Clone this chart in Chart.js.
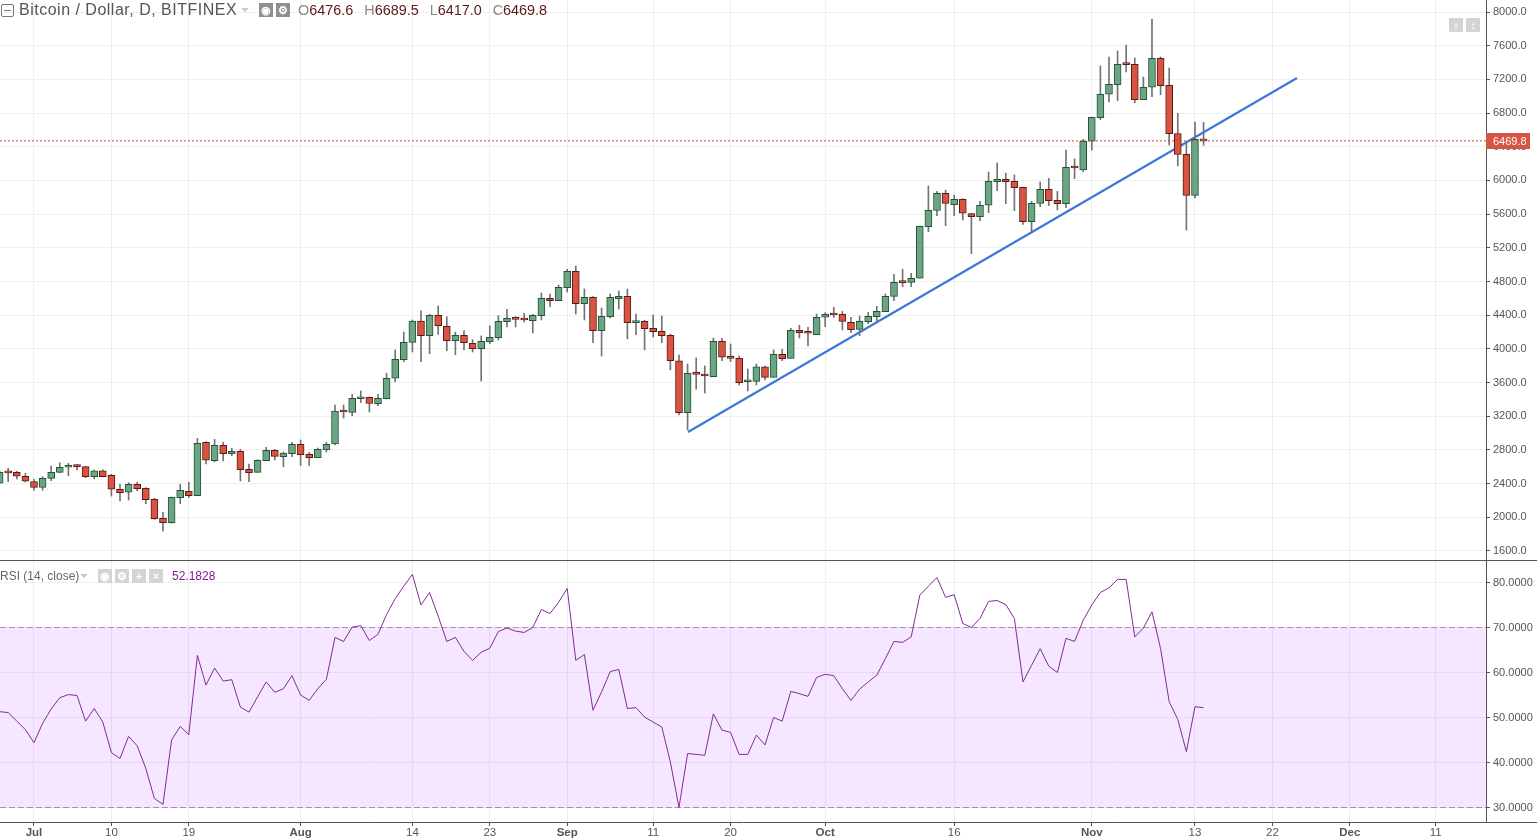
<!DOCTYPE html>
<html>
<head>
<meta charset="utf-8">
<title>Bitcoin / Dollar, D, BITFINEX</title>
<script src="https://cdn.jsdelivr.net/npm/chart.js@4"></script>
<style>
  html, body { margin: 0; padding: 0; background: #fff; overflow: hidden; }
  #wrap { position: relative; width: 1537px; height: 838px; font-family: "Liberation Sans", Arial, sans-serif; }
  #priceBox { position: absolute; left: 0; top: 0; width: 1537px; height: 560px; }
  #rsiBox { position: absolute; left: 0; top: 561px; width: 1537px; height: 277px; }
  #divider { position: absolute; left: 0; top: 560px; width: 1537px; height: 1px; background: #555; }
  #bottomRule { position: absolute; left: 1486px; top: 822px; width: 51px; height: 1px; background: #555; }
  .txt { position: absolute; white-space: nowrap; }
  #title { left: 19px; top: 0; font-size: 16px; letter-spacing: 0.5px; line-height: 20px; color: #555; }
  #ohlc { left: 298px; top: 0; font-size: 14.4px; line-height: 20px; color: #5b1a13; }
  #ohlc i { font-style: normal; color: #888; margin-left: 7px; }
  #ohlc i:first-child { margin-left: 0; }
  #rsiName { left: 0; top: 569px; font-size: 12px; line-height: 14px; color: #666; }
  #rsiValue { left: 172px; top: 569px; font-size: 12px; line-height: 14px; color: #8e1599; }
  .btn { position: absolute; width: 14px; height: 14px; background: #d4d4d4; color: #fff; text-align: center; font-size: 11px; line-height: 14px; font-weight: bold; }
  .caret { position: absolute; width: 0; height: 0; border-left: 4px solid transparent; border-right: 4px solid transparent; border-top: 4px solid #c8c8c8; }
  #collapse { position: absolute; left: 1px; top: 4px; width: 11px; height: 11px; border: 1px solid #777; border-radius: 2px; }
  #collapse::after { content: ""; position: absolute; left: 2px; right: 2px; top: 5px; height: 1px; background: #777; }
  #priceBox canvas, #rsiBox canvas { display: block; }
</style>
</head>
<body>
<div id="wrap">
  <div id="priceBox"><canvas id="priceChart" width="1537" height="560"></canvas></div>
  <div id="divider"></div>
  <div id="rsiBox"><canvas id="rsiChart" width="1537" height="277"></canvas></div>
  <div id="bottomRule"></div>

  <div id="collapse"></div>
  <div class="txt" id="title">Bitcoin / Dollar, D, BITFINEX</div>
  <div class="caret" style="left:241px;top:8px"></div>
  <div class="btn" style="left:259px;top:3px;background:#8f8f8f">&#9673;</div>
  <div class="btn" style="left:276px;top:3px;background:#8f8f8f">&#9881;</div>
  <div class="txt" id="ohlc"><i>O</i>6476.6 <i>H</i>6689.5 <i>L</i>6417.0 <i>C</i>6469.8</div>

  <div class="btn" style="left:1449px;top:18px">&#8597;</div>
  <div class="btn" style="left:1466px;top:18px">&#8597;</div>

  <div class="txt" id="rsiName">RSI (14, close)</div>
  <div class="caret" style="left:80px;top:574px"></div>
  <div class="btn" style="left:98px;top:569px">&#9673;</div>
  <div class="btn" style="left:115px;top:569px">&#9881;</div>
  <div class="btn" style="left:132px;top:569px">+</div>
  <div class="btn" style="left:149px;top:569px">&#215;</div>
  <div class="txt" id="rsiValue">52.1828</div>
</div>

<script>
// first candle is 4 days before Jul 1 (day 0)
const firstDay = -4;

const opens = [2404,2534,2534,2487,2423,2356,2463,2534,2594,2609,2601,2482,2553,2499,2333,2297,2392,2344,2214,1988,
  1936,2233,2309,2257,2891,2672,2855,2755,2784,2570,2534,2672,2795,2720,2755,2866,2748,2708,2799,2870,
  3256,3246,3408,3425,3349,3408,3651,3871,4078,4331,4156,4399,4268,4097,4161,4066,4002,4085,4133,4323,
  4363,4351,4335,4394,4600,4572,4726,4921,4536,4612,4216,4382,4596,4624,4311,4327,4244,4209,4161,3859,
  3243,3705,3686,3670,4090,3900,3888,3610,3614,3788,3662,3935,3888,4220,4192,4168,4375,4411,4411,4315,
  4232,4323,4382,4441,4624,4790,4790,4838,5451,5645,5847,5712,5776,5605,5569,5705,5986,6014,5990,5919,
  5510,5728,5895,5764,5724,6151,6124,6465,6745,7023,7137,7379,7379,6959,7106,7450,7130,6555,6310,5823,6476.6];
const highs = [2548,2582,2548,2522,2451,2482,2609,2648,2640,2629,2605,2562,2565,2511,2392,2411,2416,2352,2226,2059,
  2241,2392,2416,2938,2898,2926,2891,2819,2807,2633,2684,2831,2807,2775,2890,2918,2772,2823,2890,3334,
  3334,3461,3500,3428,3461,3710,3987,4200,4343,4453,4411,4509,4382,4200,4216,4109,4153,4272,4394,4470,
  4382,4422,4411,4663,4652,4758,4945,4984,4711,4620,4485,4652,4687,4711,4414,4339,4402,4390,4173,3927,
  3820,3892,3797,4129,4125,4058,3915,3761,3820,3797,3987,3995,4244,4281,4257,4414,4430,4494,4446,4375,
  4390,4434,4505,4652,4885,4945,4897,5459,5934,5871,5886,5827,5783,5610,5752,6100,6207,6088,6065,5922,
  5752,5981,6025,5871,6361,6255,6489,6753,7359,7466,7537,7608,7454,7228,7917,7466,7335,6797,6445,6694,6689.5];
const lows = [2395,2423,2455,2419,2321,2321,2435,2529,2494,2562,2470,2458,2479,2253,2194,2205,2315,2162,1975,1837,
  1930,2162,2233,2257,2633,2660,2669,2732,2431,2423,2534,2672,2680,2601,2720,2615,2615,2708,2775,2858,
  3179,3206,3363,3250,3325,3405,3610,3848,3963,3848,3943,4172,3978,3931,3987,3963,3619,4061,4105,4260,
  4260,4319,4189,4343,4501,4572,4675,4414,4343,4073,3915,4367,4473,4117,4168,3987,4141,4073,3749,3215,
  3037,3520,3476,3670,3860,3848,3571,3500,3571,3630,3662,3860,3888,4129,4034,4168,4263,4375,4224,4192,
  4156,4299,4315,4441,4572,4738,4738,4838,5391,5581,5463,5581,5530,5130,5522,5617,5878,5724,5641,5479,
  5378,5688,5700,5649,5676,6021,6104,6361,6721,6931,6947,7288,6923,6959,6994,7018,6421,6172,5411,5792,6417.0];
const closes = [2534,2528,2487,2428,2356,2463,2534,2594,2609,2601,2482,2553,2482,2333,2292,2392,2340,2209,1983,1936,
  2238,2321,2257,2879,2677,2855,2755,2784,2565,2529,2677,2795,2724,2764,2866,2743,2708,2807,2866,3262,
  3250,3413,3417,3351,3413,3651,3876,4078,4331,4156,4399,4275,4097,4161,4073,4002,4090,4137,4327,4363,
  4351,4343,4399,4600,4572,4731,4921,4536,4612,4216,4387,4612,4624,4311,4327,4240,4204,4156,3859,3243,
  3710,3698,3678,4090,3900,3888,3598,3618,3788,3662,3935,3883,4220,4192,4185,4375,4411,4402,4327,4228,
  4327,4387,4446,4624,4790,4786,4838,5455,5645,5847,5728,5776,5610,5569,5705,5990,6014,5986,5914,5510,
  5728,5895,5759,5724,6156,6148,6465,6750,7023,7142,7379,7375,6959,7106,7450,7125,6555,6310,5823,6489,6469.8];

const rsiValues = [51.3,51.1,49.2,47.3,44.4,48.7,51.9,54.4,55.1,54.9,49.2,52,49,42.2,40.9,45.8,43.7,38.7,32,30.7,
  45,48,46.2,63.8,57.2,61,58.1,58.4,52.3,51.2,54.6,57.9,55.6,56.4,59.3,55,53.8,56.4,58.5,67.8,
  66.9,70.1,70.4,67.1,68.5,72.9,76.4,79.2,81.8,75,77.8,72.5,66.9,67.8,64.7,62.7,64.5,65.4,69.1,69.9,
  69.2,68.9,70,74,73.1,75.6,78.7,62.7,64,51.6,55.7,60.2,60.7,52,52.2,50.1,49,47.9,40.1,30,
  42,41.8,41.6,50.8,47.2,46.7,41.8,41.8,46.1,43.9,50,49.2,55.8,55.3,54.7,58.9,59.6,59.3,56.4,53.8,
  56.3,57.9,59.4,63.1,66.9,66.7,67.9,77.2,79.2,81.1,76.7,77.3,70.9,70,72,75.8,76,75.1,72,57.9,
  61.6,65.3,61.4,60,67.6,66.9,71.6,75,77.8,78.8,80.7,80.7,67.9,69.9,73.5,65.3,53.5,49.6,42.4,52.4,52.1828];

const tickDays = [0,9,18,31,44,53,62,72,81,92,107,123,135,144,153,163];
const tickLabels = ["Jul","10","19","Aug","14","23","Sep","11","20","Oct","16","Nov","13","22","Dec","11"];
const monthLabels = ["Jul","Aug","Sep","Oct","Nov","Dec"];

const priceTicks = [1600,2000,2400,2800,3200,3600,4000,4400,4800,5200,5600,6000,6400,6800,7200,7600,8000];
const rsiTicks = [30,40,50,60,70,80];

const trendDays = [76.05,146.86];
const trendPrices = [3013,7216];
const lastPrice = 6469.8;
const rsiBandTop = 70;
const rsiBandBottom = 30;

// view window
const dayMin = -3.953;
const dayMax = 168.84;

const days = opens.map((_, i) => i + firstDay);
const isUp = days.map((_, i) => closes[i] >= opens[i]);

const gridColor = "#efefef";
const axisColor = "#555";
const textColor = "#555";

function sharedX(showLabels) {
  return {
    type: "linear",
    min: dayMin,
    max: dayMax,
    offset: false,
    afterBuildTicks: (s) => { s.ticks = tickDays.map((d) => ({ value: d })); },
    afterFit: (s) => {
      s.height = showLabels ? 16 : 0;
      s.paddingLeft = 0;
      s.paddingRight = 0;
    },
    grid: { offset: false, color: gridColor, drawTicks: showLabels, tickLength: 4, tickColor: axisColor },
    border: { display: showLabels, color: axisColor },
    ticks: {
      display: showLabels,
      autoSkip: false,
      maxRotation: 0,
      padding: 0,
      color: textColor,
      font: (c) => {
        const label = tickLabels[tickDays.indexOf(c.tick ? c.tick.value : -1)];
        return { family: "Liberation Sans", size: 11.5, weight: monthLabels.includes(label) ? "bold" : "normal" };
      },
      callback: (v) => tickLabels[tickDays.indexOf(v)],
    },
  };
}

function sharedY(ticks, digits, min, max) {
  return {
    position: "right",
    min: min,
    max: max,
    afterBuildTicks: (s) => { s.ticks = ticks.map((v) => ({ value: v })); },
    afterFit: (s) => {
      s.width = 51;
      s.paddingTop = 0;
      s.paddingBottom = 0;
    },
    grid: { color: gridColor, tickLength: 4, tickColor: axisColor },
    border: { color: axisColor },
    ticks: {
      padding: 3,
      color: textColor,
      font: { family: "Liberation Sans", size: 11 },
      callback: (v) => v.toFixed(digits),
    },
  };
}

// red box with the last price, sits over the axis labels
const lastPriceBadge = {
  id: "lastPriceBadge",
  afterDraw(chart) {
    const { ctx, scales } = chart;
    const y = Math.round(scales.y.getPixelForValue(lastPrice));
    ctx.save();
    ctx.fillStyle = "#d75442";
    ctx.fillRect(chart.chartArea.right, y - 8, 44, 16);
    ctx.fillStyle = "#fff";
    ctx.font = '11px "Liberation Sans"';
    ctx.textBaseline = "middle";
    ctx.fillText(lastPrice.toFixed(1), chart.chartArea.right + 7, y + 0.5);
    ctx.restore();
  },
};

new Chart(document.getElementById("priceChart"), {
  type: "bar",
  plugins: [lastPriceBadge],
  data: {
    datasets: [
      {
        type: "line",
        order: 0,
        data: [{ x: dayMin, y: lastPrice }, { x: dayMax, y: lastPrice }],
        borderColor: "#d0453a",
        borderWidth: 1,
        borderDash: [2, 2],
        pointRadius: 0,
      },
      {
        order: 1,
        grouped: false,
        barThickness: 7,
        minBarLength: 2,
        data: days.map((d, i) => ({ x: d, y: [opens[i], closes[i]] })),
        backgroundColor: isUp.map((u) => (u ? "#6ba583" : "#d75442")),
        borderColor: isUp.map((u) => (u ? "#225437" : "#5b1a13")),
        borderWidth: 1,
        borderSkipped: false,
      },
      {
        order: 2,
        grouped: false,
        barThickness: 1,
        data: days.map((d, i) => ({ x: d, y: [lows[i], highs[i]] })),
        backgroundColor: "#737375",
        borderWidth: 0,
      },
      {
        type: "line",
        order: 3,
        data: trendDays.map((d, i) => ({ x: d, y: trendPrices[i] })),
        borderColor: "#3d78d8",
        borderWidth: 2.2,
        pointRadius: 0,
      },
    ],
  },
  options: {
    responsive: false,
    animation: false,
    maintainAspectRatio: false,
    layout: { padding: 0 },
    plugins: { legend: { display: false }, tooltip: { enabled: false } },
    scales: {
      x: sharedX(false),
      y: sharedY(priceTicks, 1, 1493, 8142.5),
    },
  },
});

new Chart(document.getElementById("rsiChart"), {
  type: "line",
  data: {
    datasets: [
      {
        order: 0,
        data: days.map((d, i) => ({ x: d, y: rsiValues[i] })),
        borderColor: "#842a96",
        borderWidth: 1,
        pointRadius: 0,
        tension: 0,
      },
      {
        order: 1,
        data: [{ x: dayMin, y: rsiBandTop }, { x: dayMax, y: rsiBandTop }],
        borderColor: "#b08fc0",
        borderWidth: 1,
        borderDash: [6, 3],
        pointRadius: 0,
        fill: { value: rsiBandBottom },
        backgroundColor: "rgba(153,21,255,0.1)",
      },
      {
        order: 2,
        data: [{ x: dayMin, y: rsiBandBottom }, { x: dayMax, y: rsiBandBottom }],
        borderColor: "#b08fc0",
        borderWidth: 1,
        borderDash: [6, 3],
        pointRadius: 0,
      },
    ],
  },
  options: {
    responsive: false,
    animation: false,
    maintainAspectRatio: false,
    layout: { padding: 0 },
    plugins: { legend: { display: false }, tooltip: { enabled: false } },
    scales: {
      x: sharedX(true),
      y: sharedY(rsiTicks, 4, 26.78, 84.78),
    },
  },
});
</script>
</body>
</html>
